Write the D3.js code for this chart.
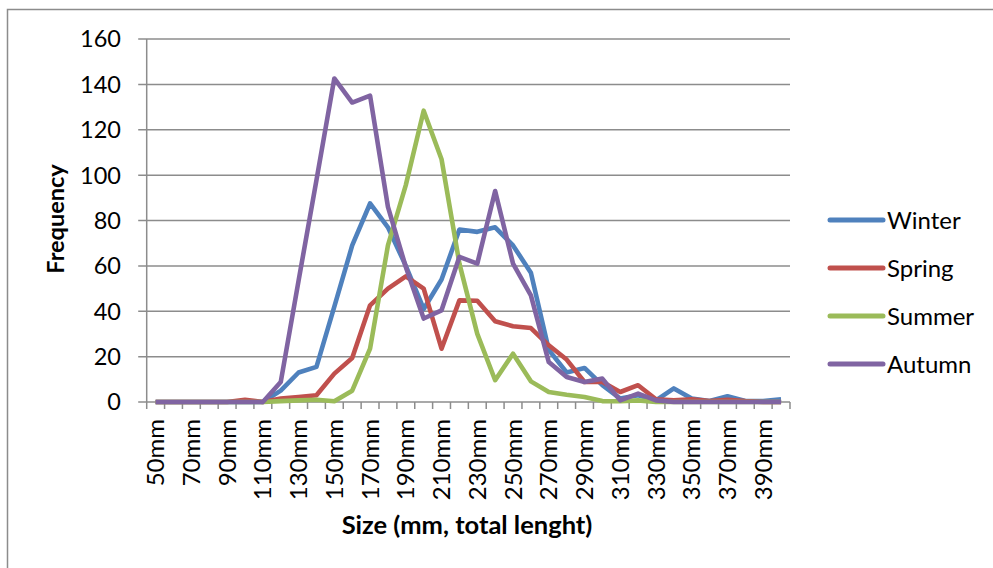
<!DOCTYPE html>
<html>
<head>
<meta charset="utf-8">
<script src="https://cdn.jsdelivr.net/npm/d3@7"></script>
<style>
  html, body { margin: 0; padding: 0; background: #fff; }
  svg { display: block; }
  text { font-family: Lato, "Open Sans", sans-serif; fill: #000; }
</style>
</head>
<body>
<svg id="chart" width="993" height="568"></svg>
<script>
const categories = ["50mm","60mm","70mm","80mm","90mm","100mm","110mm","120mm","130mm","140mm",
  "150mm","160mm","170mm","180mm","190mm","200mm","210mm","220mm","230mm","240mm",
  "250mm","260mm","270mm","280mm","290mm","300mm","310mm","320mm","330mm","340mm",
  "350mm","360mm","370mm","380mm","390mm","400mm"];

const winter = [0,0,0,0,0,0,0,5,13,15.5,42,69,87.5,77,60,41,54,76,75,77,69,57,23,13,15,7.4,1.5,3,0.7,6,1.5,0.4,2.5,0.4,0.4,1.2];
const spring = [0,0,0,0,0,1,0,1.5,2.2,3,12.5,19.4,42.6,50,55.4,50,23.5,44.8,44.6,35.6,33.4,32.6,25,18.7,8.8,8.8,4.4,7.4,1.2,0.7,1.2,0.4,1,0.4,0,0];
const summer = [0,0,0,0,0,0,0,0.4,0.7,1,0.3,5,23.5,69,95.6,128.4,107,61,30,9.6,21.3,9.1,4.4,3.2,2.2,0.4,0.3,0.7,0,0,0,0,0,0,0,0];
const autumn = [0,0,0,0,0,0,0,8.8,53.5,97.8,142.6,132,135,86,59.5,36.8,40.4,64,61,93,61,47,17.6,11,8.8,10.3,0.7,3.7,0.7,0,0,0,0,0,0,0];

const seriesNames = ["Winter","Spring","Summer","Autumn"];
const seriesValues = [winter, spring, summer, autumn];
const seriesColors = ["#4F81BD","#C0504D","#9BBB59","#8064A2"];
const yTicks = [0,20,40,60,80,100,120,140,160];

const svg = d3.select("#chart");
const gray = "#8c8c8c";

// outer chart border
svg.append("rect").attr("x",7.5).attr("y",9.5).attr("width",1000).attr("height",600)
  .attr("fill","none").attr("stroke",gray).attr("stroke-width",1.5);

const plotL = 146.7, plotR = 790, plotT = 39, plotB = 402;
const x = d3.scaleBand().domain(categories).range([plotL, plotR]).padding(0);
const y = d3.scaleLinear().domain([0,160]).range([plotB, plotT]);
const cx = c => x(c) + x.bandwidth()/2;

// gridlines + y ticks
const g = svg.append("g");
g.selectAll("line.grid").data(yTicks).enter().append("line")
  .attr("x1", plotL - 8.5).attr("x2", plotR)
  .attr("y1", d => y(d)).attr("y2", d => y(d))
  .attr("stroke", gray).attr("stroke-width", 1.5);
g.selectAll("text.ytick").data(yTicks).enter().append("text")
  .attr("x", 121).attr("y", d => y(d)).attr("dy","0.36em")
  .attr("text-anchor","end").style("font-size","23.5px").text(d => d);

// y axis line
g.append("line").attr("x1",plotL).attr("x2",plotL).attr("y1",plotT).attr("y2",plotB)
  .attr("stroke",gray).attr("stroke-width",1.5);

// x ticks at category boundaries
const bounds = categories.map(c => x(c)).concat([x(categories[categories.length-1]) + x.bandwidth()]);
g.selectAll("line.xtick").data(bounds).enter().append("line")
  .attr("x1", d => d).attr("x2", d => d).attr("y1", plotB).attr("y2", plotB + 7)
  .attr("stroke", gray).attr("stroke-width", 1.5);

// x labels every other category
g.selectAll("text.xlab").data(categories.filter((c,i) => i % 2 === 0)).enter().append("text")
  .attr("transform", d => `translate(${cx(d)},419) rotate(-90)`)
  .attr("dy","0.36em").attr("text-anchor","end").style("font-size","24px").text(d => d);

// series lines
const line = d3.line().x((d,i) => cx(categories[i])).y(d => y(d));
seriesValues.forEach((vals, si) => {
  svg.append("path").datum(vals).attr("d", line)
    .attr("fill","none").attr("stroke", seriesColors[si]).attr("stroke-width", 4.6)
    .attr("stroke-linejoin","round");
});

// legend
const legY = [220, 268, 316, 364];
seriesNames.forEach((n, i) => {
  svg.append("line").attr("x1",830).attr("x2",883).attr("y1",legY[i]).attr("y2",legY[i])
    .attr("stroke",seriesColors[i]).attr("stroke-width",5).attr("stroke-linecap","round");
  svg.append("text").attr("x",887).attr("y",legY[i]).attr("dy","0.36em")
    .style("font-size","24px").text(n);
});

// axis titles
svg.append("text").attr("transform","translate(64,219) rotate(-90)")
  .attr("text-anchor","middle").style("font-size","23.5px").style("font-weight","bold").text("Frequency");
svg.append("text").attr("x",467).attr("y",534)
  .attr("text-anchor","middle").style("font-size","25.5px").style("font-weight","bold").text("Size (mm, total lenght)");
</script>
</body>
</html>
